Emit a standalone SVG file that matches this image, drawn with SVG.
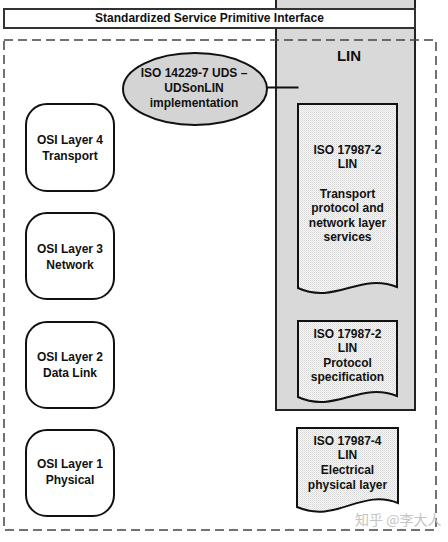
<svg xmlns="http://www.w3.org/2000/svg" width="448" height="542" viewBox="0 0 448 542">
<defs>
<pattern id="dots" patternUnits="userSpaceOnUse" width="2" height="2">
<rect width="2" height="2" fill="#f8f8f8"/>
<rect x="0" y="0" width="1" height="1" fill="#d6d6d6"/>
<rect x="1" y="1" width="1" height="1" fill="#e2e2e2"/>
</pattern>
<style>
text{font-family:"Liberation Sans",Arial,sans-serif;font-weight:bold;font-size:12px;fill:#111;text-anchor:middle}
.osi{fill:#fff;stroke:#111;stroke-width:2}
.doc{fill:url(#dots);stroke:#111;stroke-width:2}
.wm{font-family:"Noto Sans CJK SC",sans-serif;font-weight:normal;font-size:14px;fill:#c4c4c4;text-anchor:start}
</style>
</defs>
<rect width="448" height="542" fill="#fff"/>
<g id="lin-column">
<rect x="276" y="-5" width="139" height="415" fill="#d9d9d9" stroke="#222" stroke-width="2"/>
<text x="349" y="61" style="font-size:15px">LIN</text>
</g>
<g id="interface">
<rect x="4" y="9" width="411" height="19" fill="#fff" stroke="#333" stroke-width="2"/>
<text x="209.5" y="22">Standardized Service Primitive Interface</text>
</g>
<g id="boundary">
<rect x="4" y="40" width="432" height="490" fill="none" stroke="#444" stroke-width="1.5" stroke-dasharray="9 5"/>
</g>
<g id="connectors">
<line x1="266" y1="87.5" x2="298.5" y2="87.5" stroke="#111" stroke-width="2"/>
</g>
<g id="uds">
<ellipse cx="195" cy="89" rx="72" ry="36" fill="#d4d4d4" stroke="#111" stroke-width="2"/>
<text x="194" y="77">ISO 14229-7 UDS –</text>
<text x="194" y="92">UDSonLIN</text>
<text x="194" y="107">implementation</text>
</g>
<g id="osi4">
<rect class="osi" x="26" y="104" width="88" height="87" rx="21"/>
<text x="70" y="144">OSI Layer 4</text>
<text x="70" y="160">Transport</text>
</g>
<g id="osi3">
<rect class="osi" x="26" y="213" width="88" height="86" rx="21"/>
<text x="70" y="253">OSI Layer 3</text>
<text x="70" y="269">Network</text>
</g>
<g id="osi2">
<rect class="osi" x="26" y="322" width="88" height="86" rx="21"/>
<text x="70" y="361">OSI Layer 2</text>
<text x="70" y="377">Data Link</text>
</g>
<g id="osi1">
<rect class="osi" x="26" y="430" width="88" height="86" rx="21"/>
<text x="70" y="468">OSI Layer 1</text>
<text x="70" y="484">Physical</text>
</g>
<g id="doc-tp">
<path class="doc" d="M298,104 H397 V287 C360,272 335,305 298,288 Z"/>
<text x="347.5" y="154">ISO 17987-2</text>
<text x="347.5" y="168">LIN</text>
<text x="347.5" y="197.5">Transport</text>
<text x="347.5" y="212">protocol and</text>
<text x="347.5" y="226.5">network layer</text>
<text x="347.5" y="241">services</text>
</g>
<g id="doc-proto">
<path class="doc" d="M298,321 H397 V396 C360,381 335,414 298,397 Z"/>
<text x="347.5" y="337.5">ISO 17987-2</text>
<text x="347.5" y="352">LIN</text>
<text x="347.5" y="366.5">Protocol</text>
<text x="347.5" y="381">specification</text>
</g>
<g id="doc-phys">
<path class="doc" d="M297,428 H398 V503 C361,488 336,524 297,507 Z"/>
<text x="347.5" y="444.5">ISO 17987-4</text>
<text x="347.5" y="459">LIN</text>
<text x="347.5" y="474">Electrical</text>
<text x="347.5" y="488.5">physical layer</text>
</g>
<text class="wm" x="355" y="525">知乎 @李大人</text>
</svg>
